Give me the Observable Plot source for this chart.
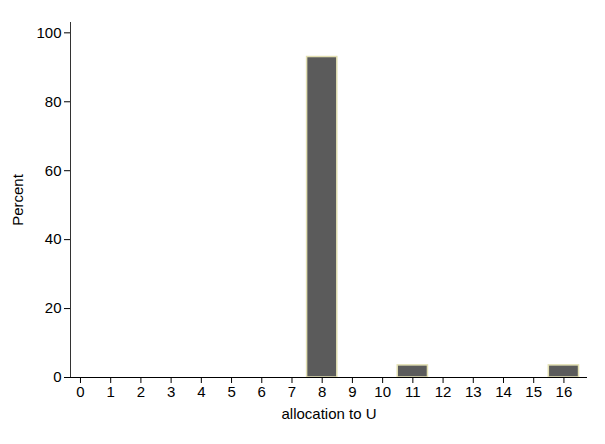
<!DOCTYPE html>
<html>
<head>
<meta charset="utf-8">
<script src="https://cdn.jsdelivr.net/npm/d3@7"></script>
<script src="https://cdn.jsdelivr.net/npm/@observablehq/plot@0.6"></script>
<style>
  html, body { margin: 0; padding: 0; background: #ffffff; }
  svg { display: block; }
</style>
</head>
<body>
<div id="chart"></div>
<script>
// Data
const allocation = [8, 11, 16];
const percent = [92.98, 3.51, 3.51];
const xTicks = [0, 1, 2, 3, 4, 5, 6, 7, 8, 9, 10, 11, 12, 13, 14, 15, 16];
const yTicks = [0, 20, 40, 60, 80, 100];
const xDomain = [-0.33, 16.78];
const yDomain = [0, 103];

const data = allocation.map((a, i) => ({a, p: percent[i]}));

const chart = Plot.plot({
  width: 605,
  height: 444,
  marginLeft: 70,
  marginRight: 18,
  marginTop: 22,
  marginBottom: 67,
  style: {fontFamily: "'Liberation Sans', Arial, Helvetica, sans-serif", fontSize: "15px", background: "#ffffff", color: "#000"},
  x: {domain: xDomain, ticks: xTicks, tickFormat: d => String(d), label: "allocation to U", labelAnchor: "center", labelArrow: "none", labelOffset: 41, tickSize: 6, tickPadding: 3},
  y: {domain: yDomain, ticks: yTicks, label: "Percent", labelAnchor: "center", labelArrow: "none", labelOffset: 58, tickSize: 6, tickPadding: 3},
  marks: [
    Plot.rectY(data, {x1: d => d.a - 0.5, x2: d => d.a + 0.5, y: "p", fill: "#5b5b5b", stroke: "#e3e0b3", strokeWidth: 1.5}),
    Plot.ruleX([xDomain[0]], {stroke: "#333"}),
    Plot.ruleY([0], {stroke: "#000"})
  ]
});
document.getElementById("chart").appendChild(chart);
</script>
</body>
</html>
